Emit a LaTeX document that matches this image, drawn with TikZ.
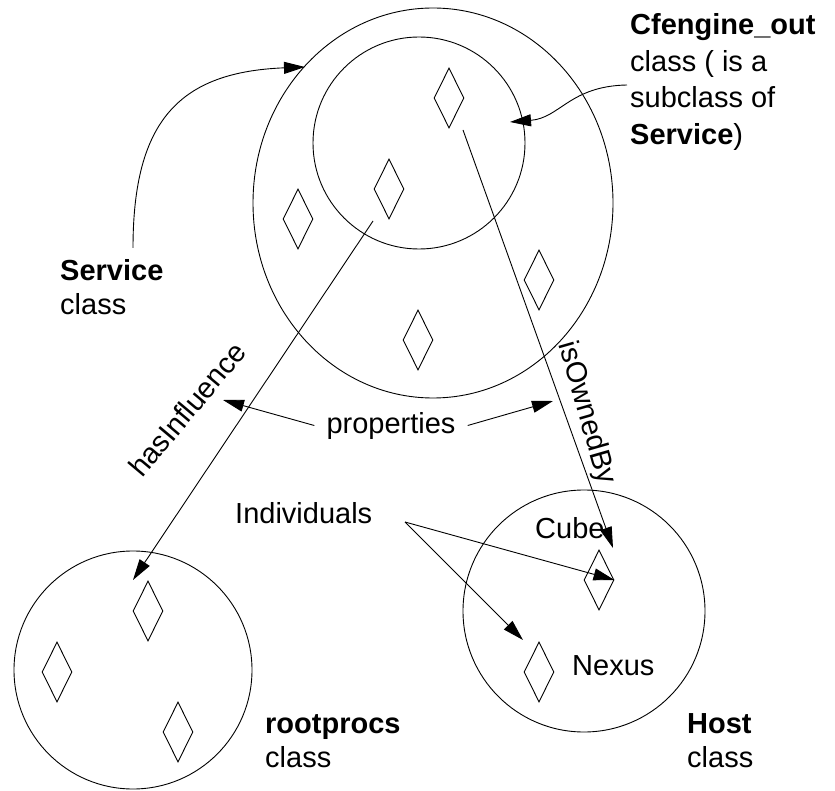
\documentclass[tikz,border=0pt]{standalone}
\usepackage{fontspec}
\setmainfont{Liberation Sans}
\usetikzlibrary{arrows.meta,shapes.geometric}
\begin{document}
\begin{tikzpicture}[x=1pt,y=-1pt,
  txt/.style={inner sep=0pt, font=\fontsize{29}{34}\selectfont},
  lbl/.style={txt, anchor=base west, align=left},
  cls/.style={draw, circle, line width=0.9pt, inner sep=0pt},
  indiv/.style={draw, diamond, minimum width=30pt, minimum height=60pt, inner sep=0pt, line width=0.9pt},
  arr/.style={-{Triangle[length=21pt,width=12pt]}, line width=0.9pt}]
\useasboundingbox (0,0) rectangle (835,791);
% classes
\node[draw, ellipse, line width=0.9pt, inner sep=0pt, minimum width=360pt, minimum height=390pt] (service) at (433,203) {};
\node[cls, minimum size=212pt] (cfe) at (419,143) {};
\node[cls, minimum size=238pt] (root) at (133,670) {};
\node[cls, minimum size=242pt] (host) at (584,611) {};
% individuals
\node[indiv] (s1) at (449,98) {};
\node[indiv] (s2) at (389,189) {};
\node[indiv] (s3) at (298,219) {};
\node[indiv] (s4) at (539,280) {};
\node[indiv] (s5) at (418,340) {};
\node[indiv] (r1) at (148,611) {};
\node[indiv] (r2) at (57,672) {};
\node[indiv] (r3) at (178,732) {};
\node[indiv] (cube) at (599,580) {};
\node[indiv] (nexus) at (539,672) {};
% labels (base = baseline of the last line)
\node[lbl, font=\fontsize{29}{36.5}\selectfont] (cfelbl) at (630,144.5) {\textbf{Cfengine\_out}\\class ( is a\\subclass of\\\textbf{Service})};
\node[lbl] (svclbl) at (60,315) {\textbf{Service}\\class};
\node[lbl] (rootlbl) at (265,767) {\textbf{rootprocs}\\class};
\node[lbl] (hostlbl) at (687,767) {\textbf{Host}\\class};
\node[lbl] (indlbl) at (235,523) {Individuals};
\node[lbl] (cubelbl) at (535,538) {Cube};
\node[lbl] (nexuslbl) at (572,675) {Nexus};
\node[txt, anchor=base, inner xsep=12pt] (prop) at (391,433) {properties};
\node[txt, anchor=base, rotate=50] (hasinf) at (195,416) {hasInfluence};
\node[txt, rotate=-74] (owned) at (586,413) {isOwnedBy};
% connector ends
\coordinate (svcstart) at (133,248);
\coordinate (svctip) at (305,67);
\coordinate (cfestart) at (627,85);
\coordinate (cfetip) at (510,122);
\coordinate (hifrom) at (373,221);
\coordinate (hito) at (133,580);
\coordinate (ownfrom) at (463,130);
\coordinate (ownto) at (613,548);
\coordinate (propL) at (223,400);
\coordinate (propR) at (553,401);
\coordinate (indfrom) at (405,522);
\coordinate (nexto) at (523,640);
% connectors
\draw[arr] (svcstart) .. controls (133,120) and (180,72) .. (svctip);
\draw[arr] (cfestart) .. controls (570,86) and (560,118) .. (cfetip);
\draw[arr] (hifrom) -- (hito);
\draw[arr] (ownfrom) -- (ownto);
\draw[arr] (prop.west) -- (propL);
\draw[arr] (prop.east) -- (propR);
\draw[arr] (indfrom) -- (cube.east);
\draw[arr] (indfrom) -- (nexto);
\end{tikzpicture}
\end{document}
